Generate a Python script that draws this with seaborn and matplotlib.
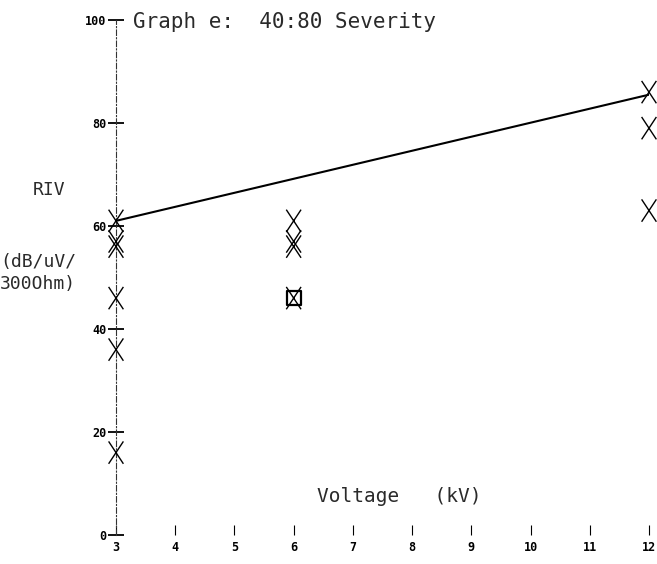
import matplotlib
matplotlib.use("Agg")
import matplotlib.pyplot as plt
from matplotlib.path import Path
import seaborn as sns
import pandas as pd

# Data
voltage = [3, 3, 3, 3, 3, 3, 6, 6, 6, 6, 12, 12, 12]
riv = [61, 57, 56, 46, 36, 16, 61, 57, 56, 46, 86, 79, 63]
box_voltage = [6]
box_riv = [46]
fit_voltage = [3, 12]
fit_riv = [61, 85.5]
x_ticks = [3, 4, 5, 6, 7, 8, 9, 10, 11, 12]
y_ticks = [0, 20, 40, 60, 80, 100]

sns.set_style("white")
plt.rcParams["font.family"] = ["DejaVu Sans Mono", "DejaVu Sans"]

fig = plt.figure(figsize=(6.57, 5.64), dpi=100)
ax = fig.add_axes([116 / 657, 1 - 535 / 564, (649 - 116) / 657, (535 - 20) / 564])

pts = pd.DataFrame({"Voltage": voltage, "RIV": riv})
fit = pd.DataFrame({"Voltage": fit_voltage, "RIV": fit_riv})
box = pd.DataFrame({"Voltage": box_voltage, "RIV": box_riv})

xmark = Path([(-0.33, -0.5), (0.33, 0.5), (-0.33, 0.5), (0.33, -0.5)],
             [Path.MOVETO, Path.LINETO, Path.MOVETO, Path.LINETO])

sns.lineplot(data=fit, x="Voltage", y="RIV", color="black", lw=1.5, ax=ax)
sns.scatterplot(data=pts, x="Voltage", y="RIV", marker=xmark, s=260,
                facecolor="none", edgecolor="black", linewidth=1.0,
                color="black", ax=ax, clip_on=False, zorder=3)
sns.scatterplot(data=box, x="Voltage", y="RIV", marker="s", s=100,
                facecolor="none", edgecolor="black", linewidth=1.6,
                ax=ax, clip_on=False, zorder=3)

ax.set_xlim(3, 12)
ax.set_ylim(0, 100)
ax.set_xticks(x_ticks)
ax.set_yticks(y_ticks)
ax.set_xticklabels([str(t) for t in x_ticks], fontsize=8.5, fontweight="bold")
ax.set_yticklabels([str(t) for t in y_ticks], fontsize=8.5, fontweight="bold")
ax.set_xlabel("")
ax.set_ylabel("")

for s in ["top", "right", "bottom"]:
    ax.spines[s].set_visible(False)
ax.spines["left"].set_linestyle((0, (5, 2, 1, 2)))
ax.spines["left"].set_linewidth(0.8)
ax.spines["left"].set_color("#333333")

ax.tick_params(axis="y", direction="inout", length=12, width=1.3, pad=1,
               colors="black", left=True)
ax.tick_params(axis="x", direction="in", length=7, width=0.8, pad=4,
               colors="black", bottom=True)
for t in ax.xaxis.get_major_ticks():
    t.tick1line.set_linestyle((0, (2, 2)))

ax.text(133 / 657, 1 - 22 / 564, "Graph e:  40:80 Severity", transform=fig.transFigure,
        fontsize=15, ha="left", va="center", color="#2a2a2a")
ax.text(317 / 657, 1 - 497 / 564, "Voltage   (kV)", transform=fig.transFigure,
        fontsize=14, ha="left", va="center", color="#2a2a2a")
fig.text(33 / 657, 1 - 190 / 564, "RIV", fontsize=13, ha="left", va="center", color="#2a2a2a")
fig.text(0, 1 - 262 / 564, "(dB/uV/", fontsize=13, ha="left", va="center", color="#2a2a2a")
fig.text(0, 1 - 284 / 564, "300Ohm)", fontsize=13, ha="left", va="center", color="#2a2a2a")

fig.savefig("out.png", dpi=100)
